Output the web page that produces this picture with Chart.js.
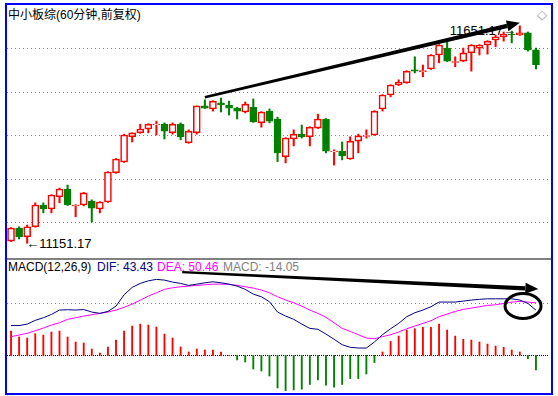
<!DOCTYPE html>
<html>
<head>
<meta charset="utf-8">
<script src="https://cdn.jsdelivr.net/npm/chart.js@4.4.1/dist/chart.umd.min.js"></script>
<style>
  body { margin: 0; background: #fff; width: 558px; height: 396px; overflow: hidden; position: relative;
         font-family: Arial, "Liberation Sans", "Noto Sans CJK SC", sans-serif; }
  #frame { position: absolute; left: 5px; top: 3px; width: 548px; height: 392px; border: 2px solid #0000ff; box-sizing: border-box; }
  #sep { position: absolute; left: 7px; top: 258px; width: 544px; height: 2px; background: #808080; }
  .txt { position: absolute; font-size: 12px; line-height: 14px; white-space: nowrap; }
  .ext { font-size: 13px; line-height: 14px; }
  canvas { position: absolute; }
</style>
</head>
<body>
<div id="frame"></div>
<div id="sep"></div>
<div class="txt" style="left:8px;top:8px;font-size:12px;line-height:15px;">中小板综(60分钟,前复权)</div>
<div class="txt" style="left:537px;top:8px;font-size:13px;color:#999;font-family:'DejaVu Sans';">◇</div>
<div class="txt ext" id="lowLabel"></div>
<div class="txt ext" id="highLabel"></div>
<div class="txt" style="left:8px;top:260px;color:#000;">MACD(12,26,9)</div>
<div class="txt" id="difText" style="left:97px;top:260px;color:#000080;"></div>
<div class="txt" id="deaText" style="left:157px;top:260px;color:#ff00ff;"></div>
<div class="txt" id="macdText" style="left:223px;top:260px;color:#808080;"></div>
<canvas id="kline" width="544" height="253" style="left:7px;top:5px"></canvas>
<canvas id="macd" width="544" height="133" style="left:7px;top:260px"></canvas>
<script>
// 60-minute bars
const openP = [11156, 11186, 11166, 11189, 11239, 11230, 11258, 11276, 11237, 11239, 11248, 11230, 11246, 11313, 11338, 11396,
  11405, 11414, 11424, 11425, 11405, 11425, 11382, 11405, 11467, 11460, 11474, 11469, 11462, 11453, 11464, 11428,
  11455, 11437, 11350, 11391, 11402, 11396, 11416, 11437, 11362, 11363, 11345, 11386, 11397, 11400, 11460, 11492,
  11515, 11520, 11550, 11546, 11552, 11584, 11600, 11567, 11570, 11589, 11600, 11607, 11619, 11626, 11632, 11630,
  11635, 11596];
const highP = [11187, 11189, 11193, 11244, 11244, 11263, 11278, 11285, 11240, 11268, 11251, 11247, 11316, 11346, 11402, 11405,
  11425, 11426, 11432, 11428, 11428, 11428, 11412, 11467, 11481, 11479, 11485, 11478, 11464, 11476, 11483, 11454,
  11460, 11441, 11394, 11412, 11423, 11419, 11448, 11438, 11366, 11384, 11396, 11402, 11412, 11456, 11493, 11516,
  11527, 11548, 11580, 11561, 11585, 11608, 11616, 11580, 11600, 11608, 11608, 11617, 11630, 11637, 11639, 11651.17,
  11637, 11600];
const lowP = [11155, 11161, 11151.17, 11188, 11221, 11221, 11244, 11238, 11212, 11237, 11200, 11221, 11245, 11312, 11337, 11384,
  11404, 11405, 11400, 11391, 11402, 11389, 11381, 11402, 11461, 11455, 11453, 11446, 11437, 11451, 11429, 11418,
  11428, 11339, 11336, 11375, 11393, 11375, 11415, 11359, 11331, 11343, 11344, 11359, 11393, 11399, 11455, 11488,
  11514, 11519, 11543, 11534, 11551, 11566, 11569, 11557, 11569, 11547, 11584, 11586, 11603, 11616, 11612, 11629,
  11593, 11552];
const closeP = [11186, 11166, 11189, 11239, 11230, 11262, 11276, 11239, 11239, 11267, 11232, 11246, 11315, 11345, 11400, 11405,
  11414, 11425, 11425, 11409, 11425, 11396, 11409, 11467, 11462, 11478, 11469, 11462, 11455, 11471, 11430, 11453,
  11432, 11359, 11393, 11402, 11396, 11418, 11437, 11363, 11363, 11352, 11386, 11398, 11399, 11455, 11492, 11515,
  11522, 11547, 11547, 11548, 11584, 11607, 11570, 11569, 11589, 11607, 11607, 11616, 11626, 11632, 11631, 11635,
  11596, 11561];

// MACD(12,26,9)
const dif = [28.6, 28.6, 30.0, 33.6, 36.1, 39.3, 43.5, 43.8, 43.5, 44.0, 41.6, 40.3, 42.2, 47.3, 58.2, 65.3,
  69.1, 71.6, 73.0, 72.3, 70.4, 69.1, 67.2, 68.4, 69.7, 70.7, 69.7, 68.4, 66.5, 63.4, 58.8, 56.3,
  51.5, 41.6, 37.7, 34.6, 30.0, 25.9, 25.0, 20.4, 15.4, 10.2, 7.7, 7.0, 7.0, 12.8, 19.8, 25.5,
  30.7, 37.1, 40.9, 43.5, 46.7, 51.2, 51.2, 51.2, 52.1, 53.1, 53.8, 54.3, 54.3, 54.3, 54.3, 53.1,
  49.9, 43.43];
const dea = [17.9, 19.5, 21.1, 23.6, 26.2, 29.1, 31.3, 34.6, 36.1, 37.7, 39.0, 40.3, 41.6, 43.5, 46.1, 49.2,
  53.1, 56.9, 60.1, 63.4, 64.9, 65.9, 66.5, 67.2, 67.8, 68.4, 68.4, 68.2, 67.2, 65.9, 64.6, 62.7,
  60.1, 56.3, 53.1, 50.5, 47.3, 43.5, 40.3, 36.5, 31.3, 25.9, 23.0, 19.8, 16.6, 15.9, 17.9, 19.8,
  22.4, 25.5, 28.1, 30.7, 33.2, 37.1, 39.6, 42.2, 44.2, 45.4, 46.7, 48.0, 48.6, 49.9, 51.2, 51.8,
  51.2, 50.46];
const macd = [23.3, 17.6, 16.6, 20.8, 19.5, 22.4, 23.3, 17.6, 12.8, 11.8, 6.0, 2.2, 8.0, 14.7, 23.3, 28.1,
  30.0, 29.1, 27.2, 20.4, 16.6, 8.0, 3.2, 6.0, 5.1, 5.1, 3.2, 0, -4.5, -6.4, -13.2, -15.1,
  -19.9, -31.4, -33.9, -33.3, -32.6, -28.1, -23.7, -28.8, -30.7, -28.1, -22.4, -22.4, -18.0, -7.0, 3.2, 13.4,
  18.5, 24.3, 25.6, 26.9, 26.9, 30.0, 24.3, 18.5, 15.4, 14.7, 12.8, 10.8, 8.9, 7.7, 5.1, 3.2,
  -3.2, -14.05];

const bars = openP.map((_v, i) => String(i + 1));
const priceGrid = [11200, 11300, 11400, 11500, 11600];

// hand-drawn marks, in data units (bar index, value)
const priceArrow = [[24, 11487], [63, 11658]];
const macdArrow = [[21.2, 80], [65.3, 63.8]];
const macdRing = [63.4, 47.4];

const upColor = "#ff0000";
const downColor = "#008000";
const isUp = closeP.map((c, i) => c >= openP[i]);

function dotLines(lines) {
  return {
    id: "dotLines",
    beforeDatasetsDraw(chart) {
      const ctx = chart.ctx;
      const y = chart.scales.y;
      ctx.save();
      lines.forEach((l) => {
        const py = Math.round(y.getPixelForValue(l.value)) + 0.5;
        ctx.strokeStyle = l.color;
        ctx.lineWidth = 1;
        ctx.setLineDash(l.dash);
        ctx.beginPath();
        ctx.moveTo(0, py);
        ctx.lineTo(chart.width - 2, py);
        ctx.stroke();
      });
      ctx.restore();
    },
  };
}

function drawArrow(ctx, x1, y1, x2, y2) {
  const len = Math.hypot(x2 - x1, y2 - y1);
  const ux = (x2 - x1) / len, uy = (y2 - y1) / len;
  const nx = -uy, ny = ux;
  const headLen = 13, headW = 5.5, w1 = 2.4, w2 = 4.4;
  const bx = x2 - ux * headLen, by = y2 - uy * headLen;
  ctx.beginPath();
  ctx.moveTo(x1 + nx * w1 / 2, y1 + ny * w1 / 2);
  ctx.lineTo(bx + nx * w2 / 2, by + ny * w2 / 2);
  ctx.lineTo(bx - nx * w2 / 2, by - ny * w2 / 2);
  ctx.lineTo(x1 - nx * w1 / 2, y1 - ny * w1 / 2);
  ctx.closePath();
  ctx.fill();
  ctx.beginPath();
  ctx.moveTo(x2, y2);
  ctx.lineTo(bx + nx * headW, by + ny * headW);
  ctx.lineTo(bx - nx * headW, by - ny * headW);
  ctx.closePath();
  ctx.fill();
}

function marks(arrow, ring) {
  return {
    id: "marks",
    afterDraw(chart) {
      const ctx = chart.ctx, x = chart.scales.x, y = chart.scales.y;
      ctx.save();
      ctx.fillStyle = "#000";
      drawArrow(ctx, x.getPixelForValue(arrow[0][0]), y.getPixelForValue(arrow[0][1]),
        x.getPixelForValue(arrow[1][0]), y.getPixelForValue(arrow[1][1]));
      if (ring) {
        ctx.strokeStyle = "#000";
        ctx.lineWidth = 3;
        ctx.beginPath();
        ctx.ellipse(x.getPixelForValue(ring[0]), y.getPixelForValue(ring[1]), 18, 12.5, 0, 0, Math.PI * 2);
        ctx.stroke();
      }
      ctx.restore();
    },
  };
}

const baseOptions = (min, max) => ({
  responsive: false,
  animation: false,
  events: [],
  layout: { padding: { left: 0, right: 11, top: 0, bottom: 0 } },
  plugins: { legend: { display: false }, tooltip: { enabled: false } },
  scales: {
    x: { display: false, offset: true },
    y: { display: false, min: min, max: max },
  },
});

const kChart = new Chart(document.getElementById("kline"), {
  type: "bar",
  data: {
    labels: bars,
    datasets: [
      {
        label: "body",
        data: openP.map((o, i) => [o, closeP[i]]),
        backgroundColor: isUp.map((u) => (u ? "#ffffff" : downColor)),
        borderColor: isUp.map((u) => (u ? upColor : downColor)),
        borderWidth: 1.6,
        borderSkipped: false,
        barThickness: 7,
        grouped: false,
        order: 0,
      },
      {
        label: "wick",
        data: lowP.map((l, i) => [l, highP[i]]),
        backgroundColor: isUp.map((u) => (u ? upColor : downColor)),
        borderWidth: 0,
        barThickness: 1.4,
        grouped: false,
        order: 1,
      },
    ],
  },
  options: baseOptions(11117.2, 11699.1),
  plugins: [
    dotLines(priceGrid.map((v) => ({ value: v, color: "#808080", dash: [1, 3] }))),
    marks(priceArrow, null),
  ],
});

new Chart(document.getElementById("macd"), {
  type: "bar",
  data: {
    labels: bars,
    datasets: [
      {
        type: "line",
        label: "DIF",
        data: dif,
        borderColor: "#000080",
        borderWidth: 1,
        pointRadius: 0,
        tension: 0,
        order: 0,
      },
      {
        type: "line",
        label: "DEA",
        data: dea,
        borderColor: "#ff00ff",
        borderWidth: 1,
        pointRadius: 0,
        tension: 0,
        order: 1,
      },
      {
        label: "MACD",
        data: macd,
        backgroundColor: macd.map((v) => (v >= 0 ? upColor : downColor)),
        borderWidth: 0,
        barThickness: 1.2,
        grouped: false,
        order: 2,
      },
    ],
  },
  options: baseOptions(-36.25, 91.63),
  plugins: [
    dotLines([
      { value: 50, color: "#808080", dash: [1, 3] },
      { value: 0, color: "#000000", dash: [1, 1] },
    ]),
    marks(macdArrow, macdRing),
  ],
});

// legend values and extreme labels
const last = macd.length - 1;
document.getElementById("difText").textContent = "DIF: " + dif[last].toFixed(2);
document.getElementById("deaText").textContent = "DEA: " + dea[last].toFixed(2);
document.getElementById("macdText").textContent = "MACD: " + macd[last].toFixed(2);

const kx = kChart.scales.x, ky = kChart.scales.y;
const lowIdx = lowP.indexOf(Math.min(...lowP));
const highIdx = highP.indexOf(Math.max(...highP));
const lowLabel = document.getElementById("lowLabel");
lowLabel.textContent = "←" + lowP[lowIdx].toFixed(2);
lowLabel.style.left = (7 + kx.getPixelForValue(lowIdx) - 1) + "px";
lowLabel.style.top = (5 + ky.getPixelForValue(lowP[lowIdx]) - 6) + "px";
const highLabel = document.getElementById("highLabel");
highLabel.textContent = highP[highIdx].toFixed(2) + "→";
highLabel.style.left = (7 + kx.getPixelForValue(highIdx) - 4 - highLabel.offsetWidth) + "px";
highLabel.style.top = (5 + ky.getPixelForValue(highP[highIdx]) - 2) + "px";
</script>
</body>
</html>
